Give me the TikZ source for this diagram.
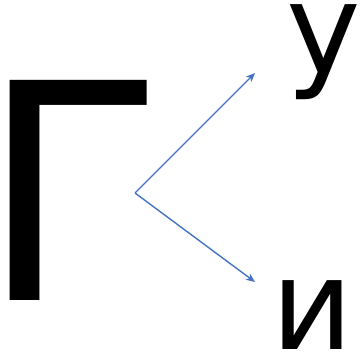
\documentclass[tikz,border=0pt]{standalone}
\usepackage{fontspec}
\setmainfont{DejaVu Sans}
\usepackage{tikz}
\usetikzlibrary{arrows.meta}
\definecolor{arrowblue}{HTML}{4472C4}

\begin{document}
\begin{tikzpicture}[x=1pt,y=-1pt,
big/.style={inner sep=0pt,anchor=base west,font=\fontsize{302}{302}\selectfont},
small/.style={inner sep=0pt,anchor=base west,font=\fontsize{126}{126}\selectfont},
arr/.style={-{Stealth[length=9pt,width=7.5pt,inset=2.5pt]},draw=arrowblue,line width=1.4pt}]
\useasboundingbox (0,0) rectangle (361,352);
\node[big] at (-19.5,300.5)(ge){Г};
\node[small] at (286,74)(u){у};
\node[small] at (271,349)(i){и};
\coordinate (fork) at (135,193);
\coordinate (tipu) at (255,73);
\coordinate (tipi) at (255,282);
\draw[arr](fork)--(tipu);\draw[arr](fork)--(tipi);
\end{tikzpicture}
\end{document}
